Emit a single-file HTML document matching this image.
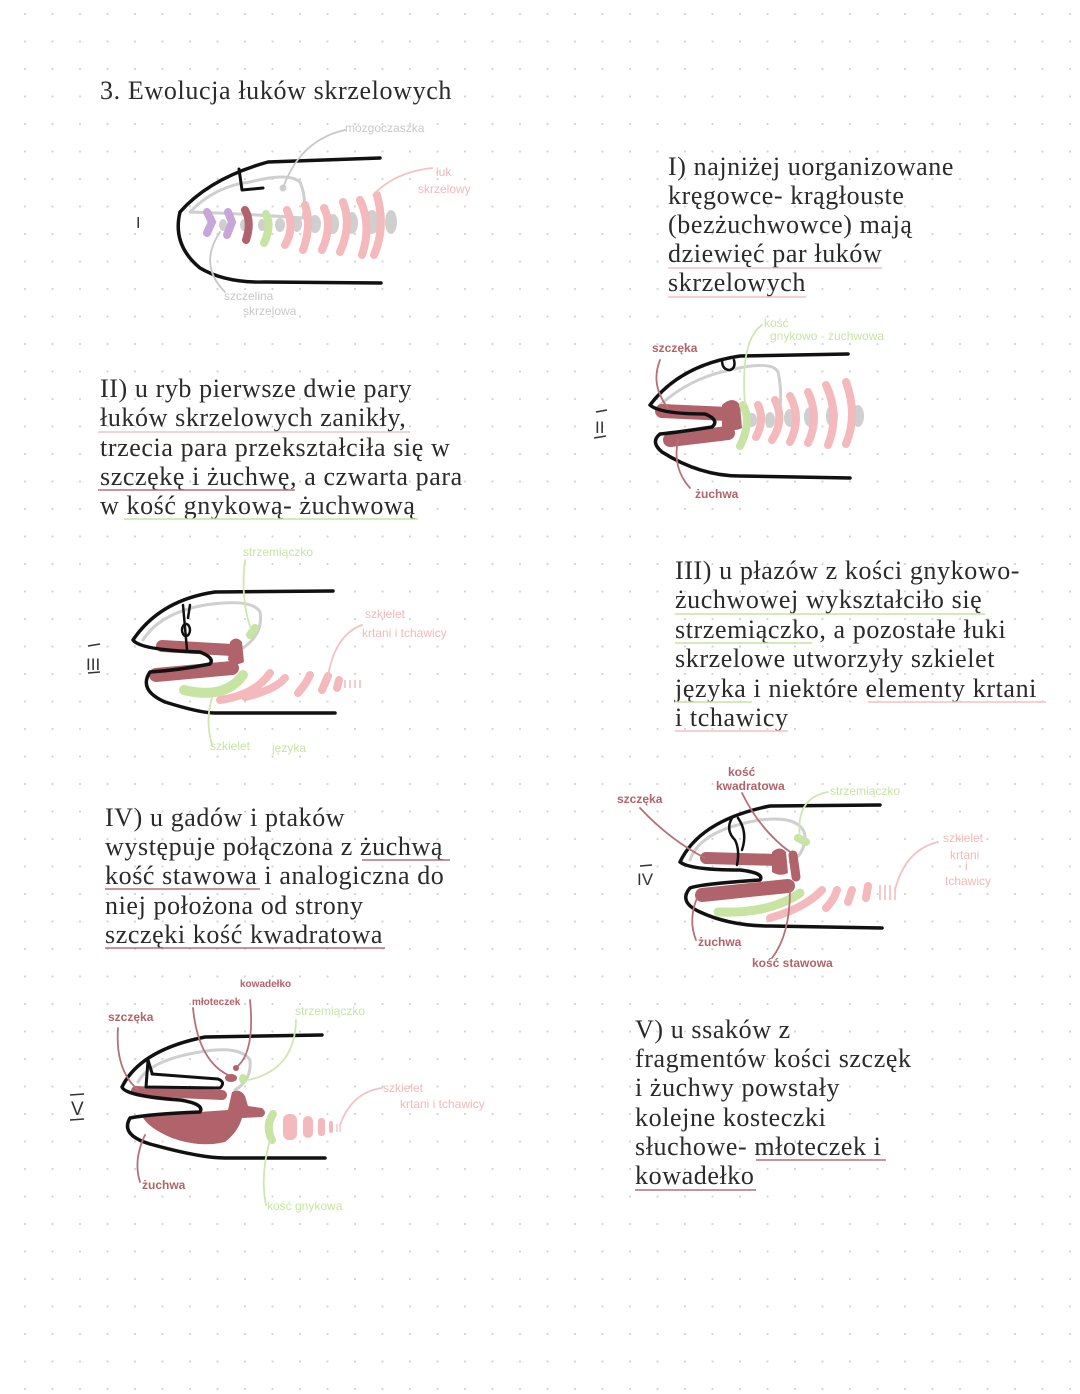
<!DOCTYPE html>
<html><head><meta charset="utf-8">
<style>
html,body{margin:0;padding:0;background:#fff;}
svg{display:block;}
.t{font-family:"Liberation Serif",serif;font-size:26px;fill:#2a2a2a;letter-spacing:0.6px;}
.s{font-family:"Liberation Sans",sans-serif;font-size:12px;}
.k{fill:none;stroke:#111;stroke-width:3.5;stroke-linecap:round;stroke-linejoin:round;}
.g{fill:none;stroke:#cfcfcf;stroke-width:3;stroke-linecap:round;}
.gl{fill:none;stroke:#c8c8c8;stroke-width:1.8;stroke-linecap:round;}
.pl{fill:none;stroke:#f2c2c4;stroke-width:1.8;stroke-linecap:round;}
.ml{fill:none;stroke:#b5707a;stroke-width:1.8;stroke-linecap:round;}
.vl{fill:none;stroke:#cfe6b2;stroke-width:1.8;stroke-linecap:round;}
.p{fill:none;stroke:#f4b9bc;stroke-width:8;stroke-linecap:round;}
.m{fill:none;stroke:#b0636a;stroke-width:13;stroke-linecap:round;}
.v{fill:none;stroke:#c7e4a3;stroke-width:8;stroke-linecap:round;}
.u{fill:none;stroke-width:1.6;}
</style></head><body>
<svg width="1080" height="1394" viewBox="0 0 1080 1394" xmlns="http://www.w3.org/2000/svg">
<defs><pattern id="d" x="11" y="0" width="27.5" height="27.5" patternUnits="userSpaceOnUse"><circle cx="14" cy="14" r="1.1" fill="#d4d4d4"/></pattern></defs>
<rect width="1080" height="1394" fill="#fff"/>
<rect width="1080" height="1394" fill="url(#d)"/>

<text class="t" x="100" y="99" textLength="352">3. Ewolucja łuków skrzelowych</text>

<text class="t" x="668" y="175">I) najniżej uorganizowane</text>
<text class="t" x="668" y="204">kręgowce- krągłouste</text>
<text class="t" x="668" y="233">(bezżuchwowce) mają</text>
<text class="t" x="668" y="262">dziewięć par łuków</text>
<text class="t" x="668" y="291">skrzelowych</text>
<path class="u" stroke="#f2c2c4" d="M668 268 L882 268 M668 297 L806 297"/>

<text class="t" x="100" y="397">II) u ryb pierwsze dwie pary</text>
<text class="t" x="100" y="426">łuków skrzelowych zanikły,</text>
<text class="t" x="100" y="456">trzecia para przekształciła się w</text>
<text class="t" x="100" y="485">szczękę i żuchwę, a czwarta para</text>
<text class="t" x="100" y="514">w kość gnykową- żuchwową</text>
<path class="u" stroke="#e9c9cc" d="M98 432 L410 432"/>
<path class="u" stroke="#b5707a" d="M98 490 L295 490"/>
<path class="u" stroke="#c7e4a3" d="M124 519 L418 519"/>

<text class="t" x="675" y="579">III) u płazów z kości gnykowo-</text>
<text class="t" x="675" y="608">żuchwowej wykształciło się</text>
<text class="t" x="675" y="638">strzemiączko, a pozostałe łuki</text>
<text class="t" x="675" y="667">skrzelowe utworzyły szkielet</text>
<text class="t" x="675" y="697">języka i niektóre elementy krtani</text>
<text class="t" x="675" y="726">i tchawicy</text>
<path class="u" stroke="#c7e4a3" d="M675 614 L985 614 M675 643 L812 643 M675 702 L752 702"/>
<path class="u" stroke="#f2c2c4" d="M868 702 L1046 702 M675 731 L788 731"/>

<text class="t" x="105" y="826">IV) u gadów i ptaków</text>
<text class="t" x="105" y="855">występuje połączona z żuchwą</text>
<text class="t" x="105" y="884">kość stawowa i analogiczna do</text>
<text class="t" x="105" y="914">niej położona od strony</text>
<text class="t" x="105" y="943">szczęki kość kwadratowa</text>
<path class="u" stroke="#b5707a" d="M362 860 L450 860 M105 889 L260 889 M105 948 L385 948"/>

<text class="t" x="635" y="1038">V) u ssaków z</text>
<text class="t" x="635" y="1067">fragmentów kości szczęk</text>
<text class="t" x="635" y="1096">i żuchwy powstały</text>
<text class="t" x="635" y="1126">kolejne kosteczki</text>
<text class="t" x="635" y="1155">słuchowe- młoteczek i</text>
<text class="t" x="635" y="1184">kowadełko</text>
<path class="u" stroke="#b5707a" d="M756 1160 L886 1160 M635 1190 L756 1190"/>

<!-- Drawing I -->
<text class="s" x="136" y="228" fill="#333" style="font-size:16px">I</text>
<path class="g" d="M190 212 Q215 186 250 182 Q288 172 300 182 Q307 198 303 218 Q250 214 190 212"/>
<g fill="#cfcfcf">
<ellipse cx="223" cy="225" rx="4" ry="6"/><ellipse cx="244" cy="225" rx="4" ry="6"/><ellipse cx="262" cy="225" rx="4" ry="6"/><ellipse cx="280" cy="225" rx="5" ry="7"/><ellipse cx="297" cy="224" rx="5" ry="8"/><ellipse cx="315" cy="224" rx="6" ry="9"/><ellipse cx="333" cy="224" rx="6" ry="10"/><ellipse cx="352" cy="223" rx="6" ry="11"/><ellipse cx="372" cy="222" rx="7" ry="12"/><ellipse cx="391" cy="222" rx="6" ry="12"/>
<circle cx="283" cy="188" r="3.5"/></g>
<path class="p" style="stroke:#c9a6d9" d="M207 212 L212 222 L207 233"/>
<path class="p" style="stroke:#c9a6d9" d="M228 212 L232 222 L227 235"/>
<path class="p" style="stroke:#b0636a" d="M245 210 Q252 222 246 240"/>
<path class="p" style="stroke:#c7e4a3" d="M266 214 Q272 226 264 243"/>
<path class="p" d="M287 210 Q295 228 285 245 M305 205 Q312 225 303 250 M324 208 Q333 225 322 250 M343 202 Q352 225 340 252 M360 200 Q372 225 362 255 M377 195 Q386 228 374 255"/>
<path class="k" d="M380 158 L268 162 Q210 178 180 212 Q172 245 200 268 Q225 283 265 282 L381 283"/>
<path class="k" style="stroke-width:3" d="M239 169 L242 190 L263 188"/>
<path class="gl" d="M283 188 Q300 140 345 130"/>
<text class="s" x="345" y="132" fill="#c8c8c8">mózgoczaszka</text>
<path class="pl" d="M373 195 Q395 172 432 168"/>
<text class="s" x="436" y="176" fill="#f2b8b8">łuk</text>
<text class="s" x="418" y="193" fill="#f2b8b8">skrzelowy</text>
<path class="gl" d="M220 232 Q198 265 225 292"/>
<text class="s" x="224" y="300" fill="#c8c8c8">szczelina</text>
<text class="s" x="243" y="315" fill="#c8c8c8">skrzelowa</text>

<!-- Drawing II -->
<text class="s" x="595" y="433" fill="#333" style="font-size:17px">II</text>
<path d="M596 412 L607 410 M594 438 L606 436" stroke="#333" stroke-width="1.5"/>
<path class="g" d="M660 405 Q690 378 730 370 Q772 360 778 372 Q782 390 780 408"/>
<g fill="#cfcfcf"><ellipse cx="752" cy="420" rx="5" ry="7"/><ellipse cx="770" cy="420" rx="5" ry="8"/><ellipse cx="790" cy="418" rx="6" ry="9"/><ellipse cx="810" cy="417" rx="6" ry="10"/><ellipse cx="832" cy="416" rx="6" ry="11"/><ellipse cx="858" cy="416" rx="6" ry="11"/></g>
<path class="p" d="M758 405 Q765 420 756 437 M775 400 Q785 420 772 440 M790 396 Q802 418 790 442 M808 392 Q820 418 808 443 M826 385 Q840 415 828 445 M846 382 Q858 415 846 444"/>
<path class="m" style="stroke-width:14" d="M662 411 L728 414"/>
<path fill="#b0636a" d="M722 405 Q733 395 740 405 L742 428 Q735 432 722 428 Z"/>
<path class="m" style="stroke-width:14" d="M670 440 L728 433"/>
<path class="v" d="M743 405 Q752 422 740 446"/>
<path class="k" d="M848 354 L740 356 Q680 365 650 405 Q660 414 705 414 Q720 420 712 427 Q680 432 660 434 Q650 442 662 452 Q700 476 740 476 L850 478"/>
<path class="k" style="stroke-width:2.5" d="M722 360 Q722 370 730 370 Q736 368 734 360"/>
<path class="ml" d="M660 360 Q650 385 668 408"/>
<text class="s" x="652" y="352" fill="#b0636a" font-weight="bold">szczęka</text>
<path class="ml" d="M678 440 Q672 468 690 488"/>
<text class="s" x="695" y="498" fill="#b0636a" font-weight="bold">żuchwa</text>
<path class="vl" d="M745 405 Q740 340 762 325"/>
<text class="s" x="764" y="327" fill="#c7e4a3">kość</text>
<text class="s" x="770" y="340" fill="#c7e4a3">gnykowo - żuchwowa</text>

<!-- Drawing III -->
<text class="s" x="86" y="670" fill="#333" style="font-size:17px">III</text>
<path d="M88 646 L100 644 M88 673 L100 672" stroke="#333" stroke-width="1.5"/>
<path class="g" d="M143 640 Q160 613 205 605 Q252 598 260 612 Q264 635 240 650"/>
<path class="m" style="stroke-width:12" d="M162 646 L232 650"/>
<path fill="#b0636a" d="M230 642 Q236 635 242 642 L244 662 Q235 667 228 660 Z"/>
<path class="m" style="stroke-width:14" d="M156 675 L232 668"/>
<path class="v" style="stroke-width:10" d="M184 690 Q225 700 243 675"/>
<path class="v" d="M250 635 L255 628"/>
<path class="p" d="M220 700 Q255 695 270 673 M245 697 Q275 690 285 678 M298 693 Q306 684 310 675 M322 690 L328 676 M337 688 L339 680"/>
<path d="M345 680 L345 688 M350 680 L350 688 M355 680 L355 688 M360 680 L360 688" stroke="#f4b9bc" stroke-width="1.5"/>
<path class="k" d="M333 591 L215 592 Q160 600 133 640 Q140 650 200 652 Q215 658 210 664 Q180 670 150 672 Q138 690 165 702 Q200 713 215 713 L335 713"/>
<path class="k" style="stroke-width:2.5" d="M183 605 L187 650 M190 605 L188 618"/>
<ellipse cx="186" cy="630" rx="4" ry="6" fill="none" stroke="#111" stroke-width="2.5"/>
<path class="vl" d="M245 560 Q240 600 252 632"/>
<text class="s" x="243" y="556" fill="#c7e4a3">strzemiączko</text>
<path class="pl" d="M328 676 Q335 635 362 625"/>
<text class="s" x="365" y="618" fill="#f2b8b8">szkielet</text>
<text class="s" x="362" y="637" fill="#f2b8b8">krtani i tchawicy</text>
<path class="vl" d="M212 698 Q205 720 212 745"/>
<text class="s" x="210" y="750" fill="#c7e4a3">szkielet</text>
<text class="s" x="272" y="752" fill="#c7e4a3">języka</text>

<!-- Drawing IV -->
<text class="s" x="637" y="885" fill="#333" style="font-size:17px">IV</text>
<path d="M640 866 L652 865" stroke="#333" stroke-width="1.5"/>
<path class="g" d="M690 860 Q700 830 760 820 Q800 815 805 835 Q805 855 790 862"/>
<path class="m" style="stroke-width:12" d="M706 858 L778 860"/>
<path fill="#b0636a" d="M772 852 Q780 845 786 852 L788 873 Q780 877 772 872 Z"/>
<path class="m" style="stroke-width:9" d="M793 855 L796 877"/>
<path class="m" style="stroke-width:14" d="M702 895 L788 886"/>
<path class="v" style="stroke-width:9" d="M718 912 Q770 914 800 893"/>
<path class="v" d="M798 838 L806 842"/>
<path class="p" d="M770 918 Q805 908 822 890 M826 908 Q834 900 837 890 M848 902 L852 890 M866 898 L868 886"/>
<path d="M880 885 L880 900 M885 885 L885 900 M890 885 L890 900 M895 887 L895 900" stroke="#f4b9bc" stroke-width="1.5"/>
<path class="k" d="M880 805 L770 806 Q700 820 680 862 Q690 870 740 870 Q765 873 760 880 Q700 884 690 888 Q678 902 700 912 Q730 926 770 926 L882 928"/>
<path class="k" style="stroke-width:2.5" d="M732 818 Q725 830 735 840 Q740 850 737 865 M738 818 Q748 832 742 850"/>
<path class="ml" d="M640 808 Q670 840 705 858"/>
<text class="s" x="617" y="803" fill="#b0636a" font-weight="bold">szczęka</text>
<path class="ml" d="M742 793 Q760 830 790 852"/>
<text class="s" x="728" y="776" fill="#b0636a" font-weight="bold">kość</text>
<text class="s" x="716" y="790" fill="#b0636a" font-weight="bold">kwadratowa</text>
<path class="vl" d="M828 792 Q795 798 800 838"/>
<text class="s" x="830" y="795" fill="#c7e4a3">strzemiączko</text>
<path class="pl" d="M895 890 Q905 850 938 842"/>
<text class="s" x="943" y="842" fill="#f2b8b8">szkielet</text>
<text class="s" x="950" y="859" fill="#f2b8b8">krtani</text>
<text class="s" x="965" y="870" fill="#f2b8b8">i</text>
<text class="s" x="945" y="885" fill="#f2b8b8">tchawicy</text>
<path class="ml" d="M697 898 Q688 920 696 940"/>
<text class="s" x="698" y="946" fill="#b0636a" font-weight="bold">żuchwa</text>
<path class="ml" d="M790 890 Q790 935 772 958"/>
<text class="s" x="752" y="967" fill="#b0636a" font-weight="bold">kość stawowa</text>

<!-- Drawing V -->
<text class="s" x="71" y="1115" fill="#333" style="font-size:19px">V</text>
<path d="M70 1095 L84 1094 M70 1120 L84 1119" stroke="#333" stroke-width="1.5"/>
<path class="g" d="M138 1082 Q150 1060 200 1052 Q240 1045 250 1060 Q252 1080 235 1090"/>
<path class="m" style="stroke-width:10" d="M136 1091 L222 1095"/>
<path fill="#b0636a" d="M142 1116 L228 1110 L232 1092 Q240 1088 245 1096 L248 1106 L262 1108 Q268 1113 262 1117 L242 1118 Q238 1132 225 1142 Q200 1148 172 1138 Q148 1128 142 1116 Z"/>
<ellipse cx="231" cy="1078" rx="6" ry="4" fill="#b0636a"/>
<ellipse cx="236" cy="1068" rx="3" ry="3" fill="#b0636a"/>
<ellipse cx="243" cy="1079" rx="4" ry="5" fill="#c7e4a3"/>
<path class="v" d="M273 1114 Q265 1126 272 1140"/>
<g fill="#f4b9bc"><rect x="283" y="1114" width="14" height="26" rx="6"/><rect x="303" y="1116" width="10" height="22" rx="5"/><rect x="318" y="1118" width="7" height="18" rx="3"/><rect x="329" y="1121" width="4" height="12" rx="2"/></g>
<path d="M337 1124 L337 1132 M340 1124 L340 1132" stroke="#f4b9bc" stroke-width="1.2"/>
<path class="k" d="M322 1035 L205 1037 Q140 1050 122 1087 Q125 1096 180 1100 Q205 1104 200 1112 Q150 1114 130 1118 Q120 1135 150 1144 Q200 1158 225 1158 L325 1158"/>
<path class="k" style="stroke-width:3" d="M148 1060 L146 1087 L220 1088 Q226 1082 218 1079 L152 1074 M148 1060 L152 1073"/>
<path class="ml" d="M118 1028 Q115 1070 138 1090"/>
<text class="s" x="108" y="1021" fill="#b0636a" font-weight="bold">szczęka</text>
<path class="ml" d="M193 1008 Q198 1060 228 1075"/>
<text class="s" x="192" y="1005" fill="#b0636a" font-weight="bold" style="font-size:10px">młoteczek</text>
<path class="ml" d="M250 1000 Q255 1050 238 1066"/>
<text class="s" x="240" y="987" fill="#b0636a" font-weight="bold" style="font-size:10px">kowadełko</text>
<path class="vl" d="M296 1020 Q295 1070 248 1080"/>
<text class="s" x="295" y="1015" fill="#c7e4a3">strzemiączko</text>
<path class="pl" d="M340 1125 Q352 1092 382 1088"/>
<text class="s" x="383" y="1092" fill="#f2b8b8">szkielet</text>
<text class="s" x="400" y="1108" fill="#f2b8b8">krtani i tchawicy</text>
<path class="ml" d="M145 1135 Q133 1160 140 1182"/>
<text class="s" x="142" y="1189" fill="#b0636a" font-weight="bold">żuchwa</text>
<path class="vl" d="M270 1140 Q260 1175 266 1205"/>
<text class="s" x="267" y="1210" fill="#c7e4a3">kość gnykowa</text>
</svg>
</body></html>
